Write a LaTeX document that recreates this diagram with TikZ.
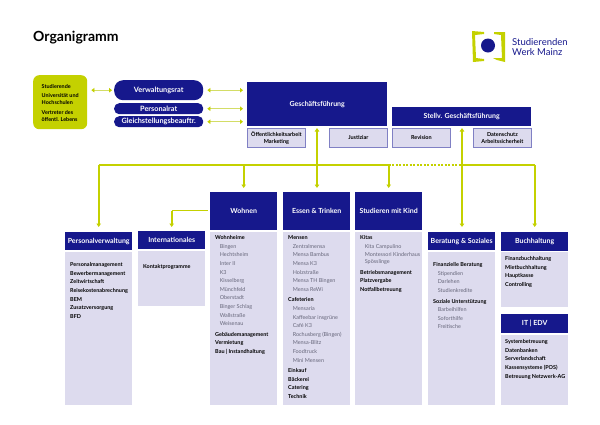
\documentclass[tikz,border=0pt]{standalone}
\usepackage{fontspec}
\setmainfont{Lato}
\usetikzlibrary{positioning,arrows.meta}

\definecolor{navy}{HTML}{16188C}
\definecolor{lime}{HTML}{C4D100}
\definecolor{paleline}{HTML}{D3DD66}
\definecolor{pale}{HTML}{DDDBEE}
\definecolor{rim}{HTML}{8080C4}
\definecolor{subgrey}{HTML}{66667A}

\newcommand{\unit}[1]{\hspace*{4.6pt}{\color{subgrey}\fontseries{m}\selectfont #1}}

\tikzset{
  header/.style={fill=navy, text=white, font=\fontsize{7}{8}\selectfont\bfseries,
    minimum width=#1, inner sep=0pt, anchor=north west},
  header/.default=67pt,
  body/.style={fill=pale, minimum width=67pt, inner sep=0pt, anchor=north west},
  staff/.style={draw=rim, line width=.8pt, fill=pale, minimum width=58pt, minimum height=19pt,
    inner sep=0pt, anchor=north west, align=center,
    font=\fontsize{5.5}{7}\selectfont\bfseries},
  board/.style={fill=navy, text=white, rounded corners=#1, minimum width=89pt, inner sep=0pt,
    anchor=north west, font=\fontsize{7.3}{8}\selectfont\bfseries},
  list/.style={anchor=north west, inner sep=0pt, align=left, text=black,
    font=\fontsize{5.45}{8.6}\selectfont\bfseries},
  trunk/.style={draw=lime, line width=1.9pt},
  down/.style={trunk, -{Triangle[length=3.5pt,width=4.5pt]}},
  both/.style={trunk, {Triangle[length=3.5pt,width=4.5pt]}-{Triangle[length=3.5pt,width=4.5pt]}},
  link/.style={draw=paleline, line width=1.2pt, {Triangle[length=3pt,width=4.5pt,color=lime]}-{Triangle[length=3pt,width=4.5pt,color=lime]}}
}

\begin{document}
\begin{tikzpicture}[x=1pt, y=-1pt]
  \useasboundingbox (0,0) rectangle (600,424);

  \node[anchor=west, inner sep=0pt, font=\fontsize{14}{16}\selectfont\bfseries] (title) at (33,37.5) {Organigramm};

  % logo
  \fill[lime] (472,31) -- (484,32) -- (484,34) -- (475,35) -- (476,58) -- (484,59) -- (484,61) -- (473,62) -- cycle;
  \fill[lime] (494,32) -- (505,32) -- (505,62) -- (497,60) -- (493,58) -- (502,58) -- (501,35) -- (494,34) -- cycle;
  \fill[navy] (488,45.5) circle (7pt);
  \node[anchor=north west, inner sep=0pt, align=left, text=navy, font=\fontsize{9.5}{10}\selectfont] (logotext) at (512,38) {Studierenden\\Werk Mainz};

  % top left
  \node[fill=lime, rounded corners=6pt, minimum width=54pt, minimum height=54pt, inner sep=0pt, anchor=north west] (members) at (33,75) {};
  \node[list, font=\fontsize{5.4}{7}\selectfont\bfseries, below right=9pt and 8.5pt of members.north west] (memberstext)
    {Studierende\\[2.5pt]Universität und\\Hochschulen\\[2.5pt]Vertreter des\\öffentl. Lebens};

  \node[board=9pt, minimum height=20pt] (rat) at (114,80) {Verwaltungsrat};
  \node[board=5pt, minimum height=11pt] (personal) at (114,103) {Personalrat};
  \node[board=5pt, minimum height=11pt] (gleich) at (114,116) {Gleichstellungsbeauftr.};

  \node[header=140pt, minimum height=44pt] (gf) at (247,82) {Geschäftsführung};
  \node[header=139pt, minimum height=19pt] (stellv) at (392,107) {Stellv. Geschäftsführung};

  \node[staff] (presse) at (247,128) {Öffentlichkeitsarbeit\\Marketing};
  \node[staff] (justiz) at (329,128) {Justiziar};
  \node[staff] (revision) at (392,128) {Revision};
  \node[staff] (daten) at (473,128) {Datenschutz\\Arbeitssicherheit};

  \draw[link] ([xshift=4pt]members.east |- rat.west) -- ([xshift=-2pt]rat.west);
  \draw[link] ([xshift=4pt]rat.east) -- ([xshift=-4pt]rat.east -| gf.west);
  \draw[link] ([xshift=4pt]personal.east) -- ([xshift=-4pt]personal.east -| gf.west);
  \draw[link] ([xshift=4pt]gleich.east) -- ([xshift=-4pt]gleich.east -| gf.west);

  % departments
  \node[header, minimum height=18pt] (pv) at (65,232) {Personalverwaltung};
  \node[body, minimum height=153pt] (pvbody) at (65,252) {};
  \node[header, minimum height=18pt] (int) at (138,231) {Internationales};
  \node[body, minimum height=55pt] (intbody) at (138,251) {};
  \node[header, minimum height=38pt] (wohnen) at (210,192) {Wohnen};
  \node[body, minimum height=173pt] (wohnenbody) at (210,232) {};
  \node[header, minimum height=38pt] (essen) at (283,192) {Essen \& Trinken};
  \node[body, minimum height=173pt] (essenbody) at (283,232) {};
  \node[header, minimum height=38pt] (kind) at (355,192) {Studieren mit Kind};
  \node[body, minimum height=173pt] (kindbody) at (355,232) {};
  \node[header, minimum height=18pt] (beratung) at (428,232) {Beratung \& Soziales};
  \node[body, minimum height=153pt] (beratungbody) at (428,252) {};
  \node[header, minimum height=19pt] (buch) at (501,232) {Buchhaltung};
  \node[body, minimum height=55pt] (buchbody) at (501,252) {};
  \node[header, minimum height=19pt] (it) at (501,314) {IT | EDV};
  \node[body, minimum height=70pt] (itbody) at (501,335) {};

  \node[list, below right=10.5pt and 5pt of pvbody.north west] (pvtext)
    {Personalmanagement\\Bewerbermanagement\\Zeitwirtschaft\\Reisekostenabrechnung\\BEM\\Zusatzversorgung\\BFD};
  \node[list, below right=13pt and 5pt of intbody.north west] (inttext) {Kontaktprogramme};
  \node[list, below right=3.5pt and 5pt of wohnenbody.north west] (wohnentext)
    {Wohnheime\\\unit{Bingen}\\\unit{Hechtsheim}\\\unit{Inter II}\\\unit{K3}\\\unit{Kisselberg}\\\unit{Münchfeld}\\\unit{Oberstadt}\\\unit{Binger Schlag}\\\unit{Wallstraße}\\\unit{Weisenau}\\[2pt]Gebäudemanagement\\Vermietung\\Bau | Instandhaltung};
  \node[list, below right=3.5pt and 5pt of essenbody.north west] (essentext)
    {Mensen\\\unit{Zentralmensa}\\\unit{Mensa Bambus}\\\unit{Mensa K3}\\\unit{Holzstraße}\\\unit{Mensa TH Bingen}\\\unit{Mensa ReWi}\\[2pt]Cafeterien\\\unit{Mensaria}\\\unit{Kaffeebar insgrüne}\\\unit{Café K3}\\\unit{Rochusberg (Bingen)}\\\unit{Mensa-Blitz}\\\unit{Foodtruck}\\\unit{Mini Mensen}\\[2pt]Einkauf\\Bäckerei\\Catering\\Technik};
  \node[list, below right=3.5pt and 5pt of kindbody.north west] (kindtext)
    {Kitas\\\unit{Kita Campulino}\\\unit{Montessori Kinderhaus}\\[-2pt]\unit{Spösslinge}\\[2pt]Betriebsmanagement\\Platzvergabe\\Notfallbetreuung};
  \node[list, below right=10.5pt and 5pt of beratungbody.north west] (beratungtext)
    {Finanzielle Beratung\\\unit{Stipendien}\\\unit{Darlehen}\\\unit{Studienkredite}\\[2pt]Soziale Unterstützung\\\unit{Barbeihilfen}\\\unit{Soforthilfe}\\\unit{Freitische}};
  \node[list, below right=4.5pt and 4pt of buchbody.north west] (buchtext)
    {Finanzbuchhaltung\\Mietbuchhaltung\\Hauptkasse\\Controlling};
  \node[list, below right=4.5pt and 4pt of itbody.north west] (ittext)
    {Systembetreuung\\Datenbanken\\Serverlandschaft\\Kassensysteme (POS)\\Betreuung Netzwerk-AG};

  % connectors
  \coordinate (railwest) at (pv.north |- 0,165);
  \coordinate (railwohnen) at (wohnen.north |- railwest);
  \coordinate (railkind) at (kind.north |- railwest);
  \coordinate (railstellv) at (462,165);
  \coordinate (raileast) at (buch.north |- railwest);
  \coordinate (gfport) at (317,128);
  \coordinate (stellvport) at (462,128);
  \coordinate (intjoin) at (int.north |- 0,210.5);

  \draw[trunk] (railwest) -- (railkind);
  \draw[trunk, dash pattern=on 2pt off 1.5pt] (railkind) -- (railstellv);
  \draw[trunk] (railstellv) -- (raileast);
  \draw[down] (railwest) -- ([yshift=5pt]pv.north);
  \draw[down] (railwohnen) -- ([yshift=4pt]wohnen.north);
  \draw[both] (gfport) -- ([yshift=4pt]essen.north -| gfport);
  \draw[down] (railkind) -- ([yshift=4pt]kind.north);
  \draw[both] (stellvport) -- ([yshift=5pt]beratung.north -| stellvport);
  \draw[down] (raileast) -- ([yshift=5pt]buch.north);
  \draw[down] (intjoin) -- ([yshift=4pt]int.north);
  \draw[trunk] (intjoin) -- ([xshift=-2pt]wohnen.west |- intjoin);
\end{tikzpicture}
\end{document}
